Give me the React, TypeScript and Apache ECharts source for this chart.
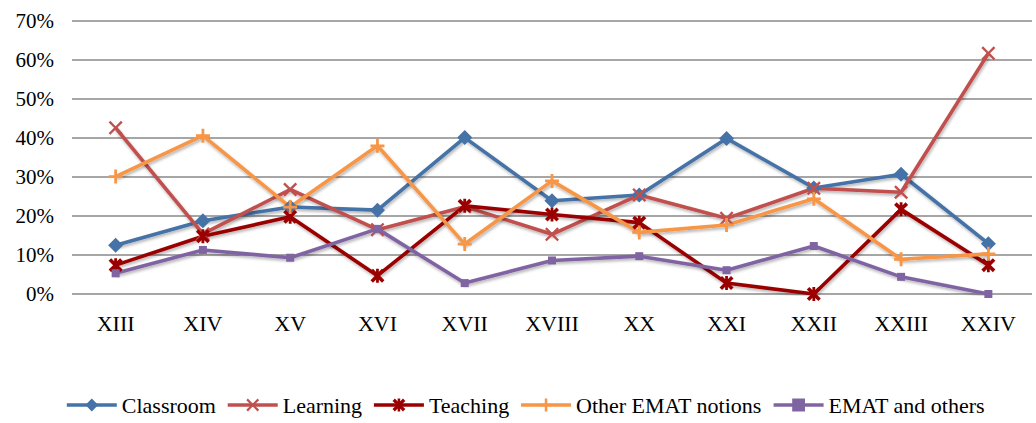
import React, { useEffect, useRef } from "react";
import * as echarts from "echarts";

const categories = ["XIII", "XIV", "XV", "XVI", "XVII", "XVIII", "XX", "XXI", "XXII", "XXIII", "XXIV"];
const classroom = [12.5, 18.8, 22.3, 21.5, 40.1, 23.9, 25.4, 39.9, 27.2, 30.7, 12.9];
const learning = [42.6, 15.4, 26.8, 16.5, 22.4, 15.3, 25.4, 19.4, 27.1, 26.1, 61.7];
const teaching = [7.4, 14.8, 19.8, 4.7, 22.6, 20.4, 18.3, 2.8, 0, 21.7, 7.4];
const otherEmat = [30.1, 40.6, 22.3, 38.0, 12.8, 29.0, 15.8, 17.7, 24.4, 8.9, 10.3];
const ematOthers = [5.3, 11.3, 9.3, 16.7, 2.8, 8.6, 9.7, 6.1, 12.3, 4.4, 0];
const yTicks = [0, 10, 20, 30, 40, 50, 60, 70];

const X_SYM = "path://M0,1.2 L1.2,0 L5,3.8 L8.8,0 L10,1.2 L6.2,5 L10,8.8 L8.8,10 L5,6.2 L1.2,10 L0,8.8 L3.8,5 Z";
const PLUS_SYM = "path://M4,0 H6 V4 H10 V6 H6 V10 H4 V6 H0 V4 H4 Z";
const STAR_SYM = "path://M0,1.8 L1.8,0 L5,3.2 L8.2,0 L10,1.8 L6.8,5 L10,8.2 L8.2,10 L5,6.8 L1.8,10 L0,8.2 L3.2,5 Z M4,0 H6 V10 H4 Z";

export default function App() {
  const ref = useRef<HTMLDivElement>(null);
  useEffect(() => {
    const chart = echarts.init(ref.current!, null, { renderer: "svg" });
    const font = "Liberation Serif";
    const shadow = { shadowColor: "rgba(0,0,0,0.3)", shadowBlur: 3, shadowOffsetX: 1, shadowOffsetY: 2 };
    const mk = (name: string, data: number[], color: string, symbol: string, size: number) => ({
      name,
      type: "line",
      data,
      symbol,
      symbolSize: size,
      showAllSymbol: true,
      lineStyle: { color, width: 3.6, ...shadow },
      itemStyle: { color },
      emphasis: { disabled: true },
    });
    chart.setOption({
      animation: false,
      textStyle: { fontFamily: font },
      grid: { left: 72, right: 4, top: 21, bottom: 129 },
      xAxis: {
        type: "category",
        data: categories,
        boundaryGap: true,
        axisLine: { show: false },
        axisTick: { show: false },
        axisLabel: { color: "#000", fontSize: 22, fontFamily: font, margin: 18 },
      },
      yAxis: {
        type: "value",
        min: 0,
        max: 70,
        interval: 10,
        axisLine: { show: false },
        axisTick: { show: false },
        axisLabel: {
          color: "#000",
          fontSize: 21,
          fontFamily: font,
          margin: 18,
          formatter: (v: number) => (yTicks.includes(v) ? v + "%" : ""),
        },
        splitLine: { lineStyle: { color: "#888", width: 1.5 } },
      },
      legend: {
        bottom: 2,
        left: 60,
        itemWidth: 50,
        itemHeight: 16,
        itemGap: 10,
        lineStyle: { width: 3.6 },
        textStyle: { fontFamily: font, fontSize: 22, color: "#000" },
        data: ["Classroom", "Learning", "Teaching", "Other EMAT notions", "EMAT and others"],
      },
      series: [
        mk("Classroom", classroom, "#4572A7", "diamond", 15),
        mk("Learning", learning, "#C0504D", X_SYM, 14),
        mk("Teaching", teaching, "#9B0000", STAR_SYM, 14),
        mk("Other EMAT notions", otherEmat, "#F79646", PLUS_SYM, 14),
        mk("EMAT and others", ematOthers, "#8064A2", "rect", 8),
      ],
    });
    return () => chart.dispose();
  }, []);
  return <div ref={ref} style={{ width: 1036, height: 423, position: "absolute", left: 0, top: 0 }} />;
}
